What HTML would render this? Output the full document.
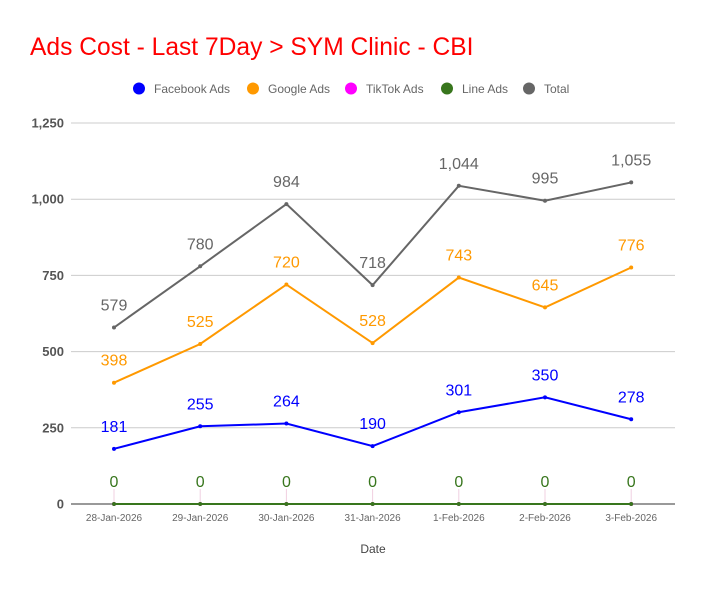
<!DOCTYPE html>
<html><head><meta charset="utf-8">
<style>
body{margin:0;background:#fff;}
svg text{font-family:"Liberation Sans",sans-serif;}
</style></head>
<body>
<svg width="704" height="585">
<text x="30" y="55" font-size="24.6" fill="#ff0000">Ads Cost - Last 7Day &gt; SYM Clinic - CBI</text>
<g id="legend"></g>
<g id="grid"></g>
<g id="series"></g>
<text x="373" y="553" font-size="12" fill="#444" text-anchor="middle">Date</text>
</svg>
<script>
const categories=["28-Jan-2026","29-Jan-2026","30-Jan-2026","31-Jan-2026","1-Feb-2026","2-Feb-2026","3-Feb-2026"];
const facebook=[181,255,264,190,301,350,278];
const google=[398,525,720,528,743,645,776];
const tiktok=[0,0,0,0,0,0,0];
const line=[0,0,0,0,0,0,0];
const total=[579,780,984,718,1044,995,1055];
const yTicks=[0,250,500,750,1000,1250];
const seriesNames=["Facebook Ads","Google Ads","TikTok Ads","Line Ads","Total"];
const NS="http://www.w3.org/2000/svg";
function y(v){return 504-v*(381/1250);}
function x(i){return 114+i*86.2;}
function mk(tag,attrs,parent,txt){const e=document.createElementNS(NS,tag);for(const k in attrs)e.setAttribute(k,attrs[k]);if(txt!==undefined)e.textContent=txt;parent.appendChild(e);return e;}
const grid=document.getElementById('grid');
yTicks.forEach(t=>{
  const l=mk('line',{x1:71,x2:675,y1:y(t),y2:y(t),stroke:t===0?'#333':'#ccc','stroke-width':1},grid);
  
  
  const tx=mk('text',{x:64,y:y(t)+4.5,'font-size':13,'font-weight':'bold',fill:'#555','text-anchor':'end'},grid,t.toLocaleString('en-US'));
  
  
});
categories.forEach((c,i)=>{
  const tx=mk('text',{x:x(i),y:521,'font-size':10,fill:'#666','text-anchor':'middle'},grid,c);
  
  
});
const colors=["#0000ff","#ff9900","#ff00ff","#38761d","#666666"];
const data=[facebook,google,tiktok,line,total];
const ser=document.getElementById('series');
line.forEach((v,i)=>{const l=mk('line',{x1:x(i),x2:x(i),y1:y(v)-15,y2:y(v),stroke:'#f0d0e0','stroke-width':1},ser);
  
  });
[2,3,1,0,4].forEach(s=>{
  const vals=data[s];
  const p=mk('polyline',{points:vals.map((v,i)=>x(i)+','+y(v)).join(' '),fill:'none',stroke:colors[s],'stroke-width':2},ser);
  
  
  vals.forEach((v,i)=>{
    const c=mk('circle',{cx:x(i),cy:y(v),r:2,fill:colors[s]},ser);
    
    
    if(s===2)return;
    const t=mk('text',{x:x(i),y:y(v)-17,'font-size':16,fill:colors[s],'text-anchor':'middle'},ser,v.toLocaleString('en-US'));
    
    
  });
});
const lg=document.getElementById('legend');
const lx=[139,253,351,447,529];
seriesNames.forEach((n,i)=>{
  const c=mk('circle',{cx:lx[i],cy:88.5,r:6,fill:colors[i]},lg);
  
  
  const t=mk('text',{x:lx[i]+15,y:93,'font-size':12,fill:'#666'},lg,n);
  
  
});
</script>
</body></html>
